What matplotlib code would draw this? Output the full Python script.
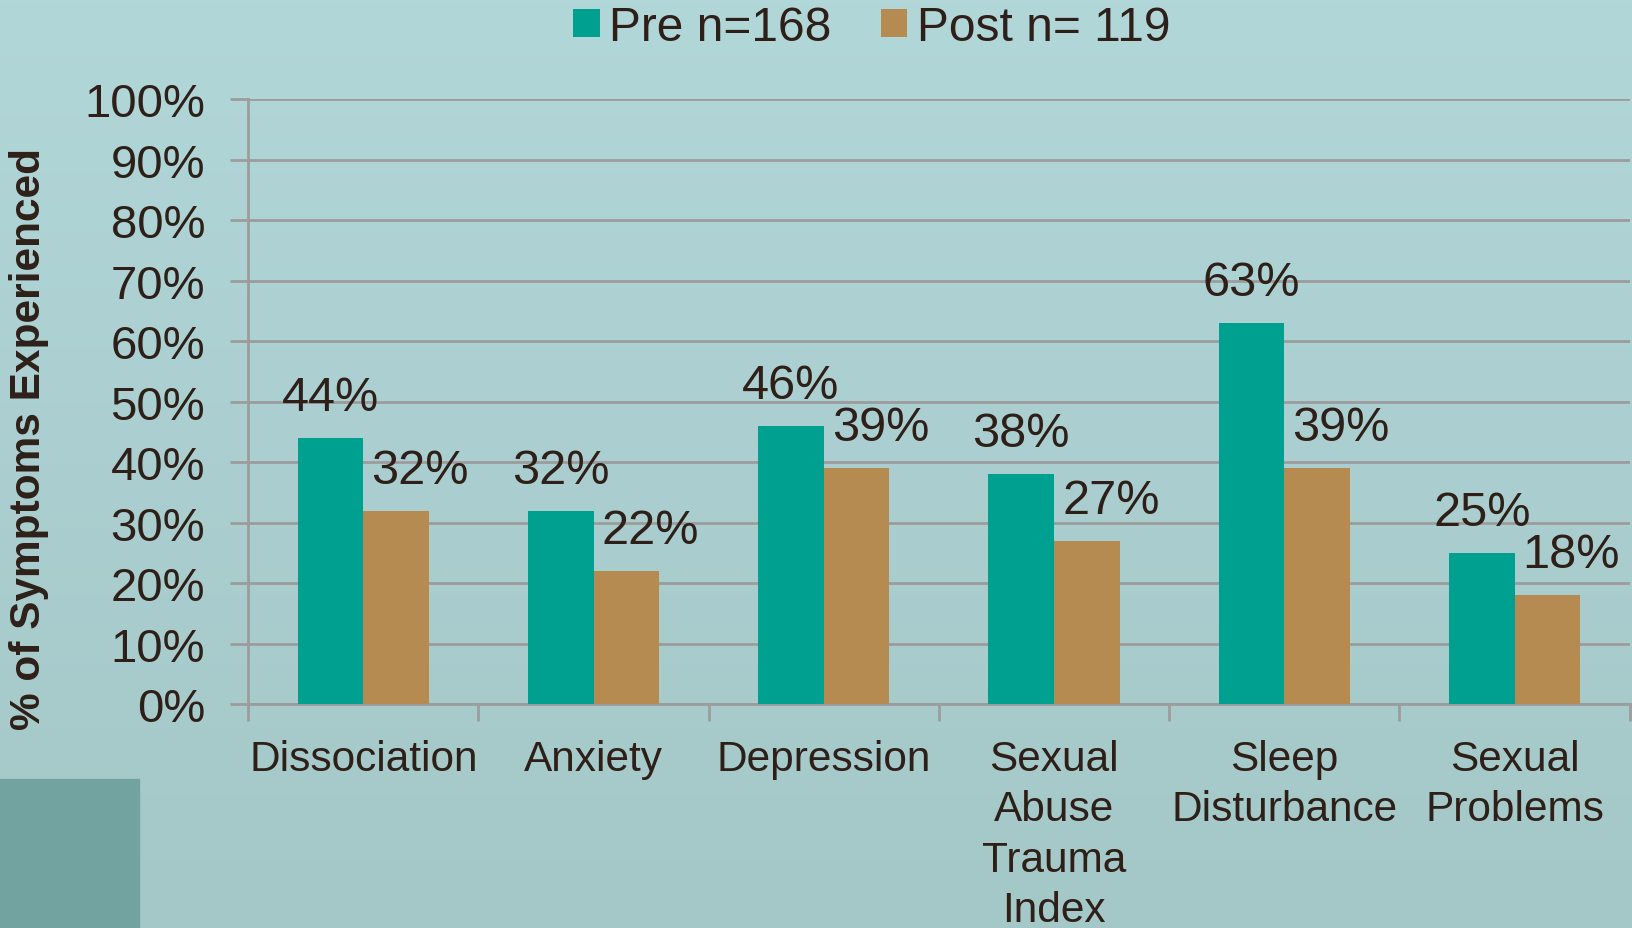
import matplotlib.pyplot as plt
import numpy as np
from matplotlib.patches import Rectangle

plt.rcParams['font.family'] = ['Liberation Sans', 'DejaVu Sans']

# data
categories = ['Dissociation', 'Anxiety', 'Depression',
              'Sexual\nAbuse\nTrauma\nIndex', 'Sleep\nDisturbance', 'Sexual\nProblems']
pre = [44, 32, 46, 38, 63, 25]
post = [32, 22, 39, 27, 39, 18]
series_names = ['Pre n=168', 'Post n= 119']
yticks = [0, 10, 20, 30, 40, 50, 60, 70, 80, 90, 100]

pre_col = '#00a090'
post_col = '#b68b52'
txt_col = '#2e2018'
grid_col = '#9c9c9c'

fig = plt.figure(figsize=(16.33, 9.29), dpi=100)

# background gradient + the darker block bottom left
bg = fig.add_axes([0, 0, 1, 1], zorder=-10)
grad = np.linspace(0, 1, 256).reshape(-1, 1)
top = np.array([0xb2, 0xd7, 0xd9]) / 255
bot = np.array([0xa4, 0xc7, 0xc7]) / 255
img = top + (bot - top) * grad[:, :, None]
bg.imshow(img, aspect='auto', extent=[0, 1, 0, 1], origin='upper')
bg.add_patch(Rectangle((0, 0), 139 / 1633, (929 - 780) / 929, color='#72a3a0'))
bg.set_xlim(0, 1)
bg.set_ylim(0, 1)
bg.axis('off')

ax = fig.add_axes([0.152, 0.241, 0.846, 0.651])
ax.patch.set_alpha(0)

x = np.arange(len(categories))
w = 0.285
b1 = ax.bar(x - w / 2, pre, w, color=pre_col, label=series_names[0], zorder=3)
b2 = ax.bar(x + w / 2, post, w, color=post_col, label=series_names[1], zorder=3)

for xi, v in zip(x, pre):
    ax.annotate(f'{v}%', (xi - w / 2, v), xytext=(0, 18), textcoords='offset pixels',
                ha='center', va='bottom', fontsize=35, color=txt_col, zorder=4)
for xi, v in zip(x, post):
    ax.annotate(f'{v}%', (xi + w / 2, v), xytext=(24, 18), textcoords='offset pixels',
                ha='center', va='bottom', fontsize=35, color=txt_col, zorder=4)

ax.set_xlim(-0.5, len(categories) - 0.5)
ax.set_ylim(0, 100)
ax.set_yticks(yticks)
ax.set_yticklabels([f'{t}%' for t in yticks], fontsize=34, color=txt_col)
ax.yaxis.grid(True, color=grid_col, linewidth=2, zorder=0)
ax.tick_params(axis='y', length=13, width=2, color=grid_col, pad=18)

ax.set_xticks(np.arange(len(categories) + 1) - 0.5)
ax.set_xticklabels([])
ax.tick_params(axis='x', which='major', length=12, width=2, color=grid_col)
ax.set_xticks(x, minor=True)
ax.set_xticklabels(categories, minor=True, fontsize=30.5, color=txt_col, va='top',
                   linespacing=1.34)
ax.tick_params(axis='x', which='minor', length=0, pad=25)

for s in ['top', 'right']:
    ax.spines[s].set_visible(False)
for s in ['left', 'bottom']:
    ax.spines[s].set_color(grid_col)
    ax.spines[s].set_linewidth(2)

ax.set_ylabel('% of Symptoms Experienced', fontsize=30.5, fontweight='bold', color=txt_col)
ax.yaxis.set_label_coords(-0.144, 0.44)

leg = fig.legend(handles=[b1, b2], loc='upper center', bbox_to_anchor=(0.534, 1.04), ncol=2,
                 frameon=False, fontsize=34.5, handlelength=0.55, handleheight=0.55,
                 handletextpad=0.2, columnspacing=1.03, labelcolor=txt_col)

fig.savefig('out.png', dpi=100)
